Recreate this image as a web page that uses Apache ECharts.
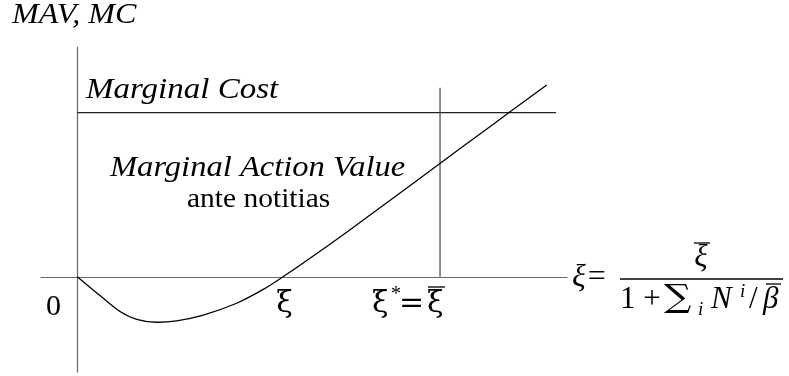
<!DOCTYPE html>
<html>
<head>
<meta charset="utf-8">
<script src="https://cdn.jsdelivr.net/npm/echarts@6/dist/echarts.min.js"></script>
<style>
  html, body { margin: 0; padding: 0; background: #fff; }
  #main { width: 789px; height: 376px; }
</style>
</head>
<body>
<div id="main"></div>
<script>
// x in units of the xi axis (xi* = 10), y in units where MC = 10
var mavX = [0, 0.717, 1.178, 1.638, 2.189, 2.740, 3.474, 4.394, 5.127, 5.670, 6.139, 6.966, 7.426, 8.344, 9.262, 9.951, 11.10, 11.93, 12.94];
var mavY = [0, -1.31, -2.11, -2.59, -2.77, -2.68, -2.33, -1.61, -0.77, 0, 0.70, 1.98, 2.71, 4.21, 5.70, 6.83, 8.70, 10.05, 11.69];
var mcX = [0, 13.2];
var mcY = [10, 10];
var xiStarX = [10, 10];
var xiStarY = [0, 11.52];

var serif = '"Liberation Serif", "DejaVu Serif", serif';
var greek = '"DejaVu Serif", serif';

function pairs(xs, ys) {
    return xs.map(function (x, i) { return [x, ys[i]]; });
}

function label(x, y, text, font, sx, align) {
    return {
        type: 'text', x: x, y: y, scaleX: sx || 1,
        style: { text: text, font: font, fill: '#000', align: align || 'left' }
    };
}

function bar(x1, x2, y) {
    return { type: 'line', shape: { x1: x1, y1: y, x2: x2, y2: y }, style: { stroke: '#000', lineWidth: 1.3 } };
}

var chart = echarts.init(document.getElementById('main'));
chart.setOption({
    animation: false,
    grid: { left: 41, top: 47, width: 526, height: 325 },
    xAxis: {
        type: 'value', min: -1, max: 13.5,
        axisLine: { show: true, onZero: true, lineStyle: { color: '#666', width: 1.2 } },
        axisTick: { show: false }, axisLabel: { show: false }, splitLine: { show: false }
    },
    yAxis: {
        type: 'value', min: -5.8, max: 14,
        axisLine: { show: true, onZero: true, lineStyle: { color: '#666', width: 1.2 } },
        axisTick: { show: false }, axisLabel: { show: false }, splitLine: { show: false }
    },
    series: [
        {
            name: 'Marginal Cost', type: 'line', data: pairs(mcX, mcY),
            symbol: 'none', lineStyle: { color: '#222', width: 1.2 }
        },
        {
            name: 'xi star', type: 'line', data: pairs(xiStarX, xiStarY),
            symbol: 'none', lineStyle: { color: '#444', width: 1.2 }
        },
        {
            name: 'Marginal Action Value', type: 'line', data: pairs(mavX, mavY),
            symbol: 'none', smooth: 0.25, lineStyle: { color: '#000', width: 1.3 }
        }
    ],
    graphic: [
        label(12, 0, 'MAV, MC', 'italic 30px ' + serif, 1.07),
        label(86, 75, 'Marginal Cost', 'italic 30px ' + serif, 1.10),
        label(110, 153, 'Marginal Action Value', 'italic 30px ' + serif, 1.085),
        label(187, 186, 'ante notitias', '28px ' + serif, 1.053),
        label(53.5, 292, '0', '30px ' + serif, 1, 'center'),
        label(284.5, 289, 'ξ', '30px ' + greek, 1, 'center'),
        // xi* = xi-bar
        label(372, 289, 'ξ', '30px ' + greek),
        label(391, 285, '*', '20px ' + serif),
        label(399, 289, '=', '30px ' + greek),
        label(427, 289, 'ξ', '30px ' + greek),
        bar(428, 445, 287),
        // xi = xi-bar / (1 + sum_i N^i / beta-bar)
        label(572, 262, 'ξ=', 'italic 32px ' + serif),
        label(701, 242, 'ξ', 'italic 31px ' + serif, 1, 'center'),
        bar(694, 710, 243),
        bar(620, 783, 279),
        label(620, 284, '1 +', '31px ' + serif),
        label(664, 283, '∑', '32px ' + greek, 1.2),
        label(698, 300, 'i', 'italic 19px ' + serif),
        label(711, 284, 'N', 'italic 31px ' + serif),
        label(740, 282, 'i', 'italic 19px ' + serif),
        label(749, 284, '/', '31px ' + serif),
        label(763, 284, 'β', 'italic 31px ' + serif),
        bar(766, 781, 284)
    ]
});
</script>
</body>
</html>
